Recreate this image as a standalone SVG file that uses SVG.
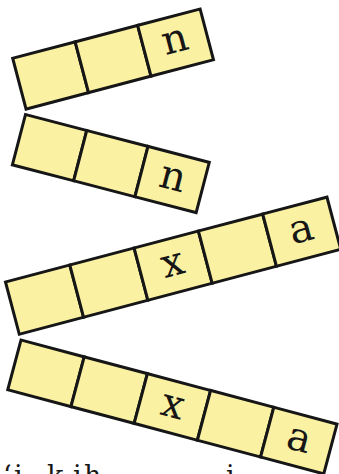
<svg xmlns="http://www.w3.org/2000/svg" width="339" height="474" viewBox="0 0 339 474">
<style>
.cell{fill:#faf1a2;stroke:#161616;stroke-width:3;stroke-linejoin:miter}
.lbl{font-family:"DejaVu Serif","Liberation Serif",serif;font-size:40px;fill:#161616;text-anchor:middle}
.cap{font-family:"DejaVu Serif","Liberation Serif",serif;font-size:27px;fill:#161616}
</style>
<rect width="339" height="474" fill="#ffffff"/>
<g id="strip1" transform="translate(12.7,58.3) rotate(-14.75)">
<rect class="cell" x="0" y="0" width="64.6" height="52.5"/>
<rect class="cell" x="64.6" y="0" width="64.6" height="52.5"/>
<rect class="cell" x="129.2" y="0" width="64.6" height="52.5"/>
<text class="lbl" x="161.5" y="36">n</text>
</g>
<g id="strip2" transform="translate(25.5,114.5) rotate(14.6)">
<rect class="cell" x="0" y="0" width="63.3" height="52"/>
<rect class="cell" x="63.3" y="0" width="63.3" height="52"/>
<rect class="cell" x="126.6" y="0" width="63.3" height="52"/>
<text class="lbl" x="158.3" y="36">n</text>
</g>
<g id="strip3" transform="translate(5.5,282) rotate(-14.8)">
<rect class="cell" x="0" y="0" width="66.5" height="54"/>
<rect class="cell" x="66.5" y="0" width="66.5" height="54"/>
<rect class="cell" x="133" y="0" width="66.5" height="54"/>
<rect class="cell" x="199.5" y="0" width="66.5" height="54"/>
<rect class="cell" x="266" y="0" width="66.5" height="54"/>
<text class="lbl" x="166.2" y="37">x</text>
<text class="lbl" x="299.2" y="37">a</text>
</g>
<g id="strip4" transform="translate(21,340) rotate(14.9)">
<rect class="cell" x="0" y="0" width="65.4" height="51.5"/>
<rect class="cell" x="65.4" y="0" width="65.4" height="51.5"/>
<rect class="cell" x="130.8" y="0" width="65.4" height="51.5"/>
<rect class="cell" x="196.2" y="0" width="65.4" height="51.5"/>
<rect class="cell" x="261.6" y="0" width="65.4" height="51.5"/>
<text class="lbl" x="163.5" y="36">x</text>
<text class="lbl" x="294.3" y="36">a</text>
</g>
<g id="caption">
<text class="cap" x="3 14 47 73 84 226" y="485">‘ikihi</text>
</g>
</svg>
